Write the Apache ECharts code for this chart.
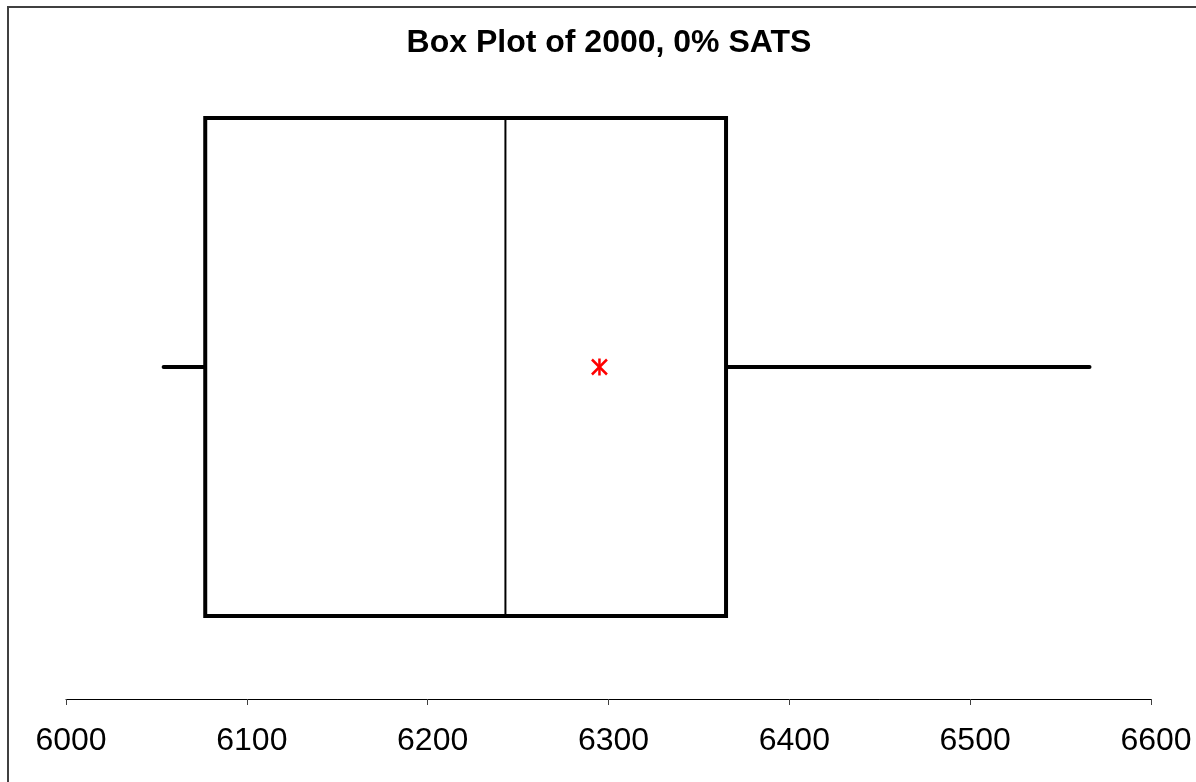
<!DOCTYPE html>
<html>
<head>
<meta charset="utf-8">
<script src="https://cdn.jsdelivr.net/npm/echarts@6/dist/echarts.min.js"></script>
<style>html,body{margin:0;padding:0;background:#fff}#c{width:1196px;height:782px}</style>
</head>
<body>
<div id="c"></div>
<script>
var titleText = 'Box Plot of 2000, 0% SATS';
var whiskerLow = [6054];
var q1 = [6077];
var median = [6243];
var q3 = [6365];
var whiskerHigh = [6566];
var mean = [6295];
var xTicks = [6000, 6100, 6200, 6300, 6400, 6500, 6600];

var boxData = whiskerLow.map(function (v, i) {
  return [whiskerLow[i], q1[i], median[i], q3[i], whiskerHigh[i], mean[i], 0.5];
});

var chart = echarts.init(document.getElementById('c'));
var BOX_HALF = 249;
chart.setOption({
  animation: false,
  backgroundColor: '#fff',
  title: {
    text: titleText,
    left: 604, top: 22, textAlign: 'center',
    textStyle: { fontFamily: 'Liberation Sans', fontWeight: 'bold', fontSize: 32, color: '#000' }
  },
  graphic: [{
    type: 'rect', shape: { x: 8, y: 7, width: 1400, height: 1000 },
    style: { fill: 'none', stroke: '#404040', lineWidth: 2 }, silent: true, z: 0
  }],
  grid: { left: 66, right: 45, top: 35, bottom: 83 },
  xAxis: {
    type: 'value', min: xTicks[0], max: xTicks[xTicks.length - 1], interval: 100,
    axisLine: { show: true, lineStyle: { color: '#000', width: 1 } },
    axisTick: { show: true, inside: false, length: 6, lineStyle: { color: '#404040', width: 1 } },
    splitLine: { show: false },
    axisLabel: { fontFamily: 'Liberation Sans', fontSize: 32, color: '#000', margin: 26,
      padding: [0, 0, 0, 10],
      formatter: function (v) { return String(v); } }
  },
  yAxis: { type: 'value', min: 0, max: 1, show: false, splitLine: { show: false } },
  series: [{
    type: 'custom',
    data: boxData,
    renderItem: function (params, api) {
      var y = api.value(6);
      var pLow = api.coord([api.value(0), y]);
      var pQ1 = api.coord([api.value(1), y]);
      var pMed = api.coord([api.value(2), y]);
      var pQ3 = api.coord([api.value(3), y]);
      var pHigh = api.coord([api.value(4), y]);
      var pMean = api.coord([api.value(5), y]);
      var cy = pQ1[1];
      var s = 7.5;
      return {
        type: 'group',
        children: [
          { type: 'line', shape: { x1: pLow[0], y1: cy, x2: pQ1[0], y2: cy }, style: { stroke: '#000', lineWidth: 4, lineCap: 'round' } },
          { type: 'line', shape: { x1: pQ3[0], y1: cy, x2: pHigh[0], y2: cy }, style: { stroke: '#000', lineWidth: 4, lineCap: 'round' } },
          { type: 'rect', shape: { x: pQ1[0], y: cy - BOX_HALF, width: pQ3[0] - pQ1[0], height: 2 * BOX_HALF }, style: { fill: '#fff', stroke: '#000', lineWidth: 4 } },
          { type: 'line', shape: { x1: pMed[0], y1: cy - BOX_HALF, x2: pMed[0], y2: cy + BOX_HALF }, style: { stroke: '#000', lineWidth: 2 } },
          { type: 'line', shape: { x1: pMean[0] - s, y1: cy - s, x2: pMean[0] + s, y2: cy + s }, style: { stroke: '#ff0000', lineWidth: 2.5 } },
          { type: 'line', shape: { x1: pMean[0] + s, y1: cy - s, x2: pMean[0] - s, y2: cy + s }, style: { stroke: '#ff0000', lineWidth: 2.5 } },
          { type: 'line', shape: { x1: pMean[0], y1: cy - s - 1, x2: pMean[0], y2: cy + s + 1 }, style: { stroke: '#ff0000', lineWidth: 2.5 } }
        ]
      };
    }
  }]
});
</script>
</body>
</html>
